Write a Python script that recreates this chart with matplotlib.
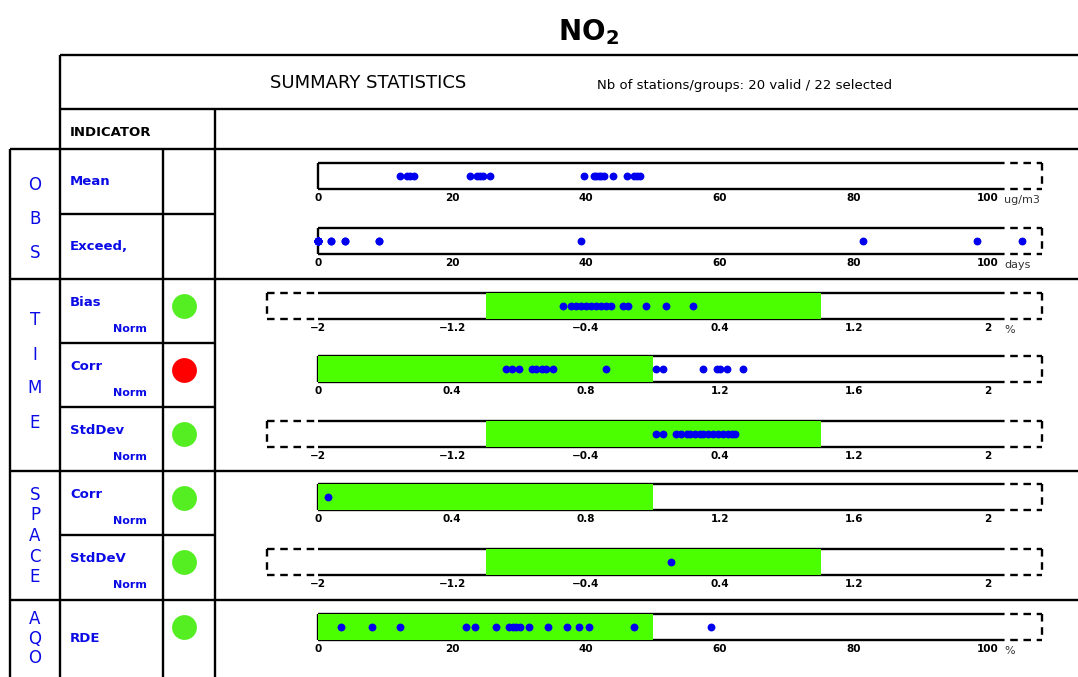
import matplotlib
matplotlib.use("Agg")
import matplotlib.pyplot as plt

W, H = 1078, 677
BLUE = "#0a0ae6"
GREEN_BAND = "#4cff00"
GREEN_DOT = "#55ee22"
RED_DOT = "#ff0000"

# ---- data ----
mean_vals = [12.3, 13.3, 13.8, 14.4, 22.7, 23.7, 24.2, 24.7, 25.7, 39.7,
             41.2, 41.5, 41.9, 42.3, 42.7, 44.0, 46.1, 47.1, 47.6, 48.1]
exceed_vals = [0, 0, 0, 0, 0, 0, 0, 0, 0, 2.0, 2.0, 4.0, 4.0, 9.1, 9.1,
               39.2, 81.3, 98.3, 105, 0]
bias_vals = [-0.54, -0.49, -0.46, -0.43, -0.40, -0.37, -0.34, -0.31, -0.28,
             -0.25, -0.18, -0.15, -0.04, 0.08, 0.24]
time_corr_vals = [0.56, 0.58, 0.60, 0.64, 0.65, 0.67, 0.68, 0.70, 0.86,
                  1.01, 1.03, 1.15, 1.19, 1.20, 1.22, 1.27]
time_std_vals = [0.02, 0.06, 0.14, 0.17, 0.20, 0.22, 0.25, 0.28, 0.30,
                 0.33, 0.36, 0.39, 0.42, 0.45, 0.47, 0.49]
space_corr_vals = [0.03]
space_std_vals = [0.11]
rde_vals = [3.5, 8.1, 12.2, 22.1, 23.5, 26.6, 28.5, 29.1, 29.6, 30.1, 31.5,
            34.4, 37.2, 38.9, 40.4, 47.2, 58.7]

pct_ticks = [0, 20, 40, 60, 80, 100]
corr_ticks = [0, 0.4, 0.8, 1.2, 1.6, 2]
sym_ticks = [-2, -1.2, -0.4, 0.4, 1.2, 2]

indicator_names = ["Mean", "Exceed,", "Bias", "Corr", "StdDev", "Corr", "StdDeV", "RDE"]
has_norm = [False, False, True, True, True, True, True, False]
status = [None, None, "ok", "bad", "ok", "ok", "ok", "ok"]
units = ["ug/m3", "days", "%", "", "", "", "", "%"]
strip_vals = [mean_vals, exceed_vals, bias_vals, time_corr_vals, time_std_vals,
              space_corr_vals, space_std_vals, rde_vals]
strip_ticks = [pct_ticks, pct_ticks, sym_ticks, corr_ticks, sym_ticks,
               corr_ticks, sym_ticks, pct_ticks]
green_bands = [None, None, (-1, 1), (0, 1), (-1, 1), (0, 1), (-1, 1), (0, 50)]

# ---- layout (pixels) ----
row_tops = [149, 214, 279, 343, 407, 471, 535, 600]
row_bots = [214, 279, 343, 407, 471, 535, 600, 677]
box_tops = [163, 228, 293, 356, 421, 484, 549, 614]
BOX_H = 26
X0, X1, XEND, XDASH, XLDASH = 318, 988, 997, 1042, 267

fig = plt.figure(figsize=(W / 100, H / 100), dpi=100)
base = fig.add_axes([0, 0, 1, 1])
base.set_xlim(0, W)
base.set_ylim(H, 0)
base.axis("off")


def hline(y, x0, x1, **kw):
    base.plot([x0, x1], [y, y], color="black", lw=kw.pop("lw", 1.7), solid_capstyle="butt", **kw)


def vline(x, y0, y1, **kw):
    base.plot([x, x], [y0, y1], color="black", lw=kw.pop("lw", 1.7), solid_capstyle="butt", **kw)


# table grid
hline(55, 60, W)
hline(109, 60, W)
hline(149, 10, W)
for y in [214, 343, 407, 535]:
    hline(y, 60, 215)
for y in [279, 471, 600]:
    hline(y, 10, W)
vline(10, 149, H)
vline(60, 55, H)
vline(163, 149, H)
vline(215, 109, H)

# titles
base.text(588, 32, r"$\mathbf{NO_2}$", ha="center", va="center", fontsize=20,
          fontweight="bold")
base.text(368, 83, "SUMMARY STATISTICS", ha="center", va="center", fontsize=13)
base.text(597, 86, "Nb of stations/groups: 20 valid / 22 selected", ha="left",
          va="center", fontsize=9.5)
base.text(70, 132, "INDICATOR", ha="left", va="center", fontsize=9.5,
          fontweight="bold")

# group letters
groups = [("OBS", [185, 219, 253]), ("TIME", [320, 355, 388, 423]),
          ("SPACE", [495, 515, 536, 557, 577]), ("AQO", [619, 639, 658])]
for word, ys in groups:
    for ch, y in zip(word, ys):
        base.text(35, y, ch, ha="center", va="center", color=BLUE, fontsize=12)

# indicator labels and status dots
for i, name in enumerate(indicator_names):
    top, bot = row_tops[i], row_bots[i]
    y_name = (top + bot) / 2 if not has_norm[i] else top + 23
    base.text(70, y_name, name, ha="left", va="center", color=BLUE,
              fontsize=9.5, fontweight="bold")
    if has_norm[i]:
        base.text(130, top + 50, "Norm", ha="center", va="center", color=BLUE,
                  fontsize=8, fontweight="bold")
    if status[i] is not None:
        col = GREEN_DOT if status[i] == "ok" else RED_DOT
        base.scatter([184], [top + 27], s=320, color=col, zorder=3, lw=0)

# strips
for i in range(len(strip_vals)):
    bt = box_tops[i]
    bb = bt + BOX_H
    ticks = strip_ticks[i]
    lo, hi = ticks[0], ticks[-1]
    ax = fig.add_axes([X0 / W, 1 - bb / H, (X1 - X0) / W, BOX_H / H])
    ax.set_xlim(lo, hi)
    ax.set_ylim(0, 1)
    for s in ax.spines.values():
        s.set_visible(False)
    ax.set_yticks([])
    ax.set_xticks(ticks)
    ax.set_xticklabels([("%g" % t).replace("-", "\u2212") for t in ticks],
                       fontsize=7.5, fontweight="bold")
    ax.tick_params(axis="x", length=0, pad=3)
    ax.patch.set_alpha(0)
    if green_bands[i] is not None:
        ax.axvspan(green_bands[i][0], green_bands[i][1], color=GREEN_BAND, lw=0)
    ax.scatter(strip_vals[i], [0.5] * len(strip_vals[i]), s=32, color="#0000ee",
               clip_on=False, zorder=4, lw=0)

    # frame
    hline(bt, X0, XEND)
    hline(bb, X0, XEND)
    dash = dict(lw=1.7, linestyle=(0, (3.2, 2.4)))
    hline(bt, XEND, XDASH, **dash)
    hline(bb, XEND, XDASH, **dash)
    vline(XDASH, bt, bb, **dash)
    if lo < 0:
        hline(bt, XLDASH, X0, **dash)
        hline(bb, XLDASH, X0, **dash)
        vline(XLDASH, bt, bb, **dash)
    else:
        vline(X0, bt, bb)
    if units[i]:
        base.text(1004, bb + 11, units[i], ha="left", va="center", fontsize=8,
                  color="#333333")

fig.savefig("out.png", dpi=100)
